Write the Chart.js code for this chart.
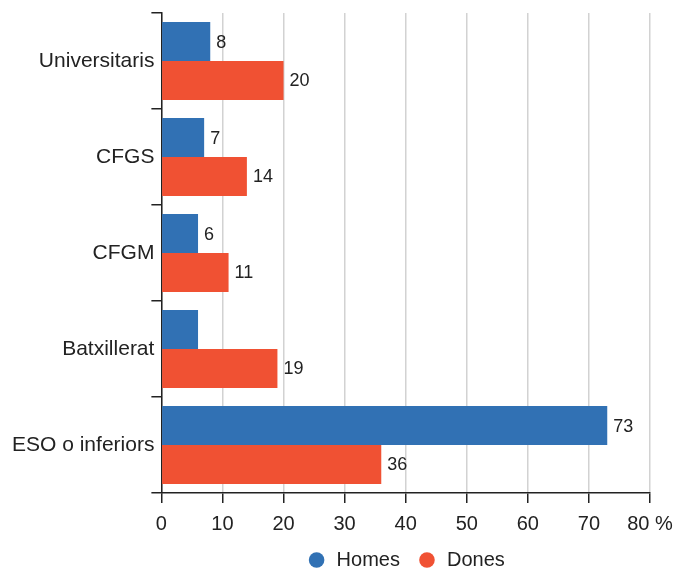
<!DOCTYPE html>
<html>
<head>
<meta charset="utf-8">
<script src="https://cdn.jsdelivr.net/npm/chart.js@4"></script>
<style>
  html, body { margin: 0; padding: 0; background: #fff; }
</style>
</head>
<body>
<canvas id="myChart" width="677" height="571"></canvas>
<script>
// nivell d'estudis, percentatge per sexe
var categories = ["Universitaris", "CFGS", "CFGM", "Batxillerat", "ESO o inferiors"];
var homes = [8, 7, 6, 6, 73];
var dones = [20, 14, 11, 19, 36];
// quines barres porten etiqueta de valor
var homesLabelled = [true, true, true, false, true];
var donesLabelled = [true, true, true, true, true];
var xTicks = [0, 10, 20, 30, 40, 50, 60, 70, 80];
var xUnit = "%";

var FONT = "'Liberation Sans', Arial, Helvetica, sans-serif";
var BLUE = "#3171b4";
var RED = "#f05133";
var INK = "#222222";

// escriu el valor al final de cada barra
var valueLabels = {
  id: "valueLabels",
  afterDatasetsDraw: function (chart) {
    var ctx = chart.ctx;
    var flags = [homesLabelled, donesLabelled];
    ctx.save();
    ctx.font = "18px " + FONT;
    ctx.fillStyle = INK;
    ctx.textAlign = "left";
    ctx.textBaseline = "middle";
    chart.data.datasets.forEach(function (ds, i) {
      var meta = chart.getDatasetMeta(i);
      meta.data.forEach(function (bar, j) {
        if (!flags[i][j]) return;
        ctx.fillText(String(ds.data[j]), bar.x + 6, bar.y + 1);
      });
    });
    ctx.restore();
  }
};

var ctx = document.getElementById("myChart").getContext("2d");

var myChart = new Chart(ctx, {
  type: "bar",
  data: {
    labels: categories,
    datasets: [
      {
        label: "Homes",
        data: homes,
        backgroundColor: BLUE,
        borderWidth: 0,
        categoryPercentage: 0.81,
        barPercentage: 1.0
      },
      {
        label: "Dones",
        data: dones,
        backgroundColor: RED,
        borderWidth: 0,
        categoryPercentage: 0.81,
        barPercentage: 1.0
      }
    ]
  },
  options: {
    indexAxis: "y",
    responsive: false,
    maintainAspectRatio: false,
    animation: false,
    layout: {
      padding: { top: 13, right: 27, left: 11, bottom: 0 }
    },
    scales: {
      x: {
        min: 0,
        max: 80,
        afterBuildTicks: function (axis) {
          axis.ticks = xTicks.map(function (v) { return { value: v }; });
        },
        afterFit: function (axis) {
          axis.height = 40;
          axis.paddingLeft = 0;
          axis.paddingRight = 0;
        },
        grid: {
          color: "#d2d2d2",
          lineWidth: 1.5,
          tickColor: INK,
          tickLength: 10
        },
        border: { color: INK, width: 1.5 },
        ticks: {
          color: INK,
          font: { family: FONT, size: 20 },
          padding: 9,
          maxRotation: 0,
          callback: function (value) {
            return value === xTicks[xTicks.length - 1] ? value + " " + xUnit : String(value);
          }
        }
      },
      y: {
        offset: true,
        afterFit: function (axis) {
          axis.width += 4;
        },
        grid: {
          drawOnChartArea: false,
          tickColor: INK,
          tickLength: 10,
          lineWidth: 1.5
        },
        border: { color: INK, width: 1.5 },
        ticks: {
          color: INK,
          font: { family: FONT, size: 21 },
          padding: -3
        }
      }
    },
    plugins: {
      legend: {
        position: "bottom",
        fullSize: false,
        maxHeight: 38,
        labels: {
          usePointStyle: true,
          pointStyle: "circle",
          boxWidth: 24,
          boxHeight: 11,
          padding: 17,
          color: INK,
          font: { family: FONT, size: 20 }
        }
      },
      tooltip: { enabled: false }
    }
  },
  plugins: [valueLabels]
});
</script>
</body>
</html>
